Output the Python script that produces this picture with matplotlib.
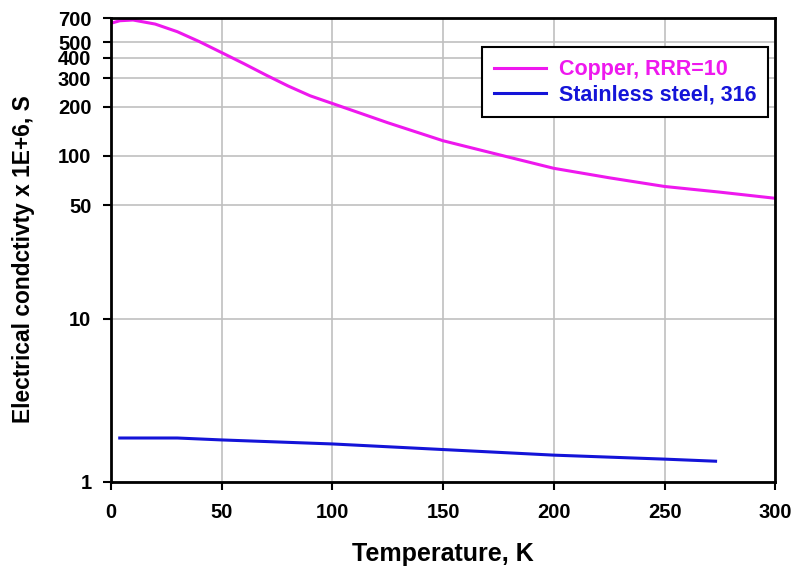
import matplotlib
matplotlib.use("Agg")
import matplotlib.pyplot as plt
from matplotlib.ticker import FixedLocator, NullLocator, FixedFormatter

plt.rcParams['font.family'] = ['Liberation Sans', 'DejaVu Sans']
plt.rcParams['font.weight'] = 'bold'

copper_T = [1, 4, 10, 20, 30, 40, 50, 60, 70, 80, 90, 100, 125, 150, 175, 200, 225, 250, 275, 300]
copper_S = [658, 676, 683, 645, 579, 503, 431, 369, 314, 269, 234, 210, 160, 124, 102, 84, 73.5, 65, 60, 55]

steel_T = [4, 30, 50, 100, 150, 200, 250, 273]
steel_S = [1.86, 1.86, 1.81, 1.71, 1.58, 1.46, 1.38, 1.34]

yticks = [1, 10, 50, 100, 200, 300, 400, 500, 700]
xticks = [0, 50, 100, 150, 200, 250, 300]

fig = plt.figure(figsize=(7.92, 5.71), dpi=100)
ax = fig.add_axes([0.140, 0.156, 0.839, 0.812])

ax.plot(copper_T, copper_S, color='#ee18ee', lw=2.2, label='Copper, RRR=10')
ax.plot(steel_T, steel_S, color='#1414d8', lw=2.2, label='Stainless steel, 316')

ax.set_yscale('log')
ax.set_xlim(0, 300)
ax.set_ylim(1, 700)
ax.yaxis.set_major_locator(FixedLocator(yticks))
ax.yaxis.set_major_formatter(FixedFormatter([str(v) for v in yticks]))
ax.yaxis.set_minor_locator(NullLocator())
ax.set_xticks(xticks)

ax.grid(True, color='#c0c0c0', lw=1.2)
ax.set_axisbelow(True)
for s in ax.spines.values():
    s.set_linewidth(2)
ax.tick_params(direction='out', length=6, width=1.5, labelsize=14.5)
ax.tick_params(axis='y', pad=8)
ax.tick_params(axis='x', pad=9)
for lab in ax.get_xticklabels() + ax.get_yticklabels():
    lab.set_fontweight('bold')

ax.set_xlabel('Temperature, K', fontsize=18, fontweight='bold')
ax.set_ylabel('Electrical condctivty x 1E+6, S', fontsize=16.4, fontweight='bold')
ax.xaxis.set_label_coords(0.499, -0.129)
ax.yaxis.set_label_coords(-0.114, 0.48)

leg = ax.legend(loc='upper right', bbox_to_anchor=(0.9887, 0.9375), fancybox=False,
                edgecolor='black', framealpha=1, fontsize=15.5, handlelength=2.4,
                handletextpad=0.6, borderpad=0.55, labelspacing=0.2,
                borderaxespad=0)
leg.get_frame().set_linewidth(1.5)
for txt, line in zip(leg.get_texts(), leg.get_lines()):
    txt.set_color(line.get_color())
    txt.set_fontweight('bold')

fig.savefig('out.png', dpi=100)
